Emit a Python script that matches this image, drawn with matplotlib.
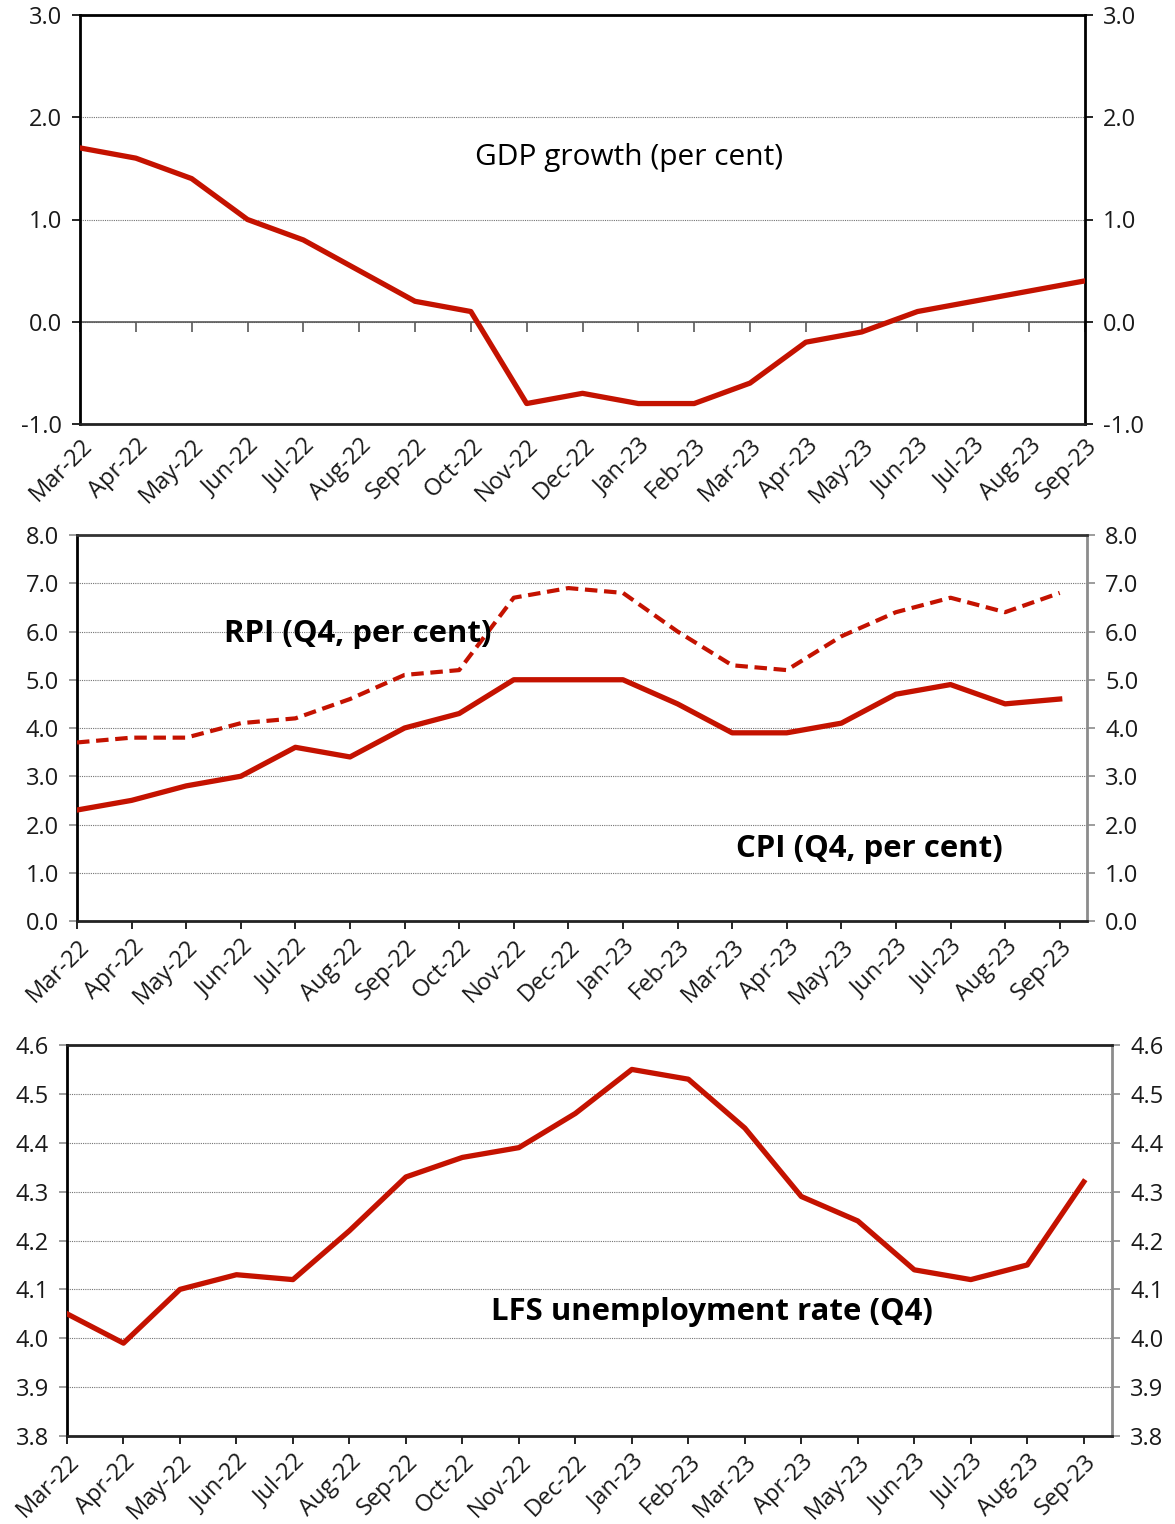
import numpy as np
import matplotlib
matplotlib.use('Agg')
import matplotlib.pyplot as plt

plt.rcParams['font.family'] = ['Open Sans', 'DejaVu Sans']

# data
months = ['Mar-22', 'Apr-22', 'May-22', 'Jun-22', 'Jul-22', 'Aug-22', 'Sep-22',
          'Oct-22', 'Nov-22', 'Dec-22', 'Jan-23', 'Feb-23', 'Mar-23', 'Apr-23',
          'May-23', 'Jun-23', 'Jul-23', 'Aug-23', 'Sep-23']
gdp = [1.7, 1.6, 1.4, 1.0, 0.8, 0.5, 0.2, 0.1, -0.8, -0.7, -0.8, -0.8, -0.6,
       -0.2, -0.1, 0.1, 0.2, 0.3, 0.4]
cpi = [2.3, 2.5, 2.8, 3.0, 3.6, 3.4, 4.0, 4.3, 5.0, 5.0, 5.0, 4.5, 3.9, 3.9,
       4.1, 4.7, 4.9, 4.5, 4.6]
rpi = [3.7, 3.8, 3.8, 4.1, 4.2, 4.6, 5.1, 5.2, 6.7, 6.9, 6.8, 6.0, 5.3, 5.2,
       5.9, 6.4, 6.7, 6.4, 6.8]
lfs = [4.05, 3.99, 4.10, 4.13, 4.12, 4.22, 4.33, 4.37, 4.39, 4.46, 4.55, 4.53,
       4.43, 4.29, 4.24, 4.14, 4.12, 4.15, 4.32]

gdp_ticks = [-1.0, 0.0, 1.0, 2.0, 3.0]
inf_ticks = [0.0, 1.0, 2.0, 3.0, 4.0, 5.0, 6.0, 7.0, 8.0]
lfs_ticks = [3.8, 3.9, 4.0, 4.1, 4.2, 4.3, 4.4, 4.5, 4.6]

red = '#C41200'
x = np.arange(len(months))
W, H = 1175, 1524
TICKSIZE = 17

fig = plt.figure(figsize=(W / 100, H / 100), dpi=100)


def box(l, r, t, b):
    return [l / W, 1 - b / H, (r - l) / W, (b - t) / H]


def style(ax, ticks, xmax, right_col, top_col):
    ax.set_xlim(0, xmax)
    ax.set_ylim(ticks[0], ticks[-1])
    ax.set_yticks(ticks)
    ax.set_yticklabels(['%.1f' % t for t in ticks])
    ax.set_xticks(x)
    ax.set_xticklabels(months, rotation=45, ha='right', rotation_mode='anchor')
    ax.tick_params(axis='y', direction='out', length=6, width=1.2,
                   labelsize=TICKSIZE, labelcolor='#1a1a1a', left=True, right=True,
                   labelleft=True, labelright=True, pad=7)
    ax.tick_params(axis='x', direction='out', length=6, width=1.2,
                   labelsize=TICKSIZE, labelcolor='#1a1a1a', pad=4)
    ax.grid(axis='y', linestyle=(0, (1, 1)), color='0.45', linewidth=0.8)
    ax.set_axisbelow(True)
    ax.spines['left'].set_color('black')
    ax.spines['left'].set_linewidth(2)
    ax.spines['bottom'].set_color('#222222')
    ax.spines['bottom'].set_linewidth(2)
    ax.spines['top'].set_color(top_col)
    ax.spines['top'].set_linewidth(2)
    ax.spines['right'].set_color(right_col)
    ax.spines['right'].set_linewidth(2)


# panel 1: GDP
ax1 = fig.add_axes(box(80, 1085, 15, 424))
ax1.plot(x, gdp, color=red, lw=3.8, zorder=3)
style(ax1, gdp_ticks, len(months) - 1, 'black', 'black')
ax1.tick_params(axis='x', length=0, pad=7)
ax1.tick_params(axis='y', colors='black', labelcolor='#1a1a1a')
ax1.axhline(0, color='0.35', lw=1.2, zorder=2)
# month ticks hanging off the zero line
zero_frac = (0 - gdp_ticks[0]) / (gdp_ticks[-1] - gdp_ticks[0])
sec = ax1.secondary_xaxis(zero_frac)
sec.set_xticks(x)
sec.tick_params(axis='x', direction='out', length=7, width=1.2, color='0.35',
                labelbottom=False, labeltop=False)
sec.spines['bottom'].set_visible(False)
sec.spines['top'].set_visible(False)
ax1.text(0.546, 0.652, 'GDP growth (per cent)', transform=ax1.transAxes,
         ha='center', va='center', fontsize=21.5, color='black')

# panel 2: CPI / RPI
ax2 = fig.add_axes(box(77, 1087, 535, 921))
ax2.plot(x, cpi, color=red, lw=3.8, zorder=3)
ax2.plot(x, rpi, color=red, lw=3.0, linestyle=(0, (3, 1.6)), zorder=3)
style(ax2, inf_ticks, 18.5, '0.55', '#333333')
ax2.tick_params(axis='y', color='0.55')
ax2.text(0.1455, 0.743, 'RPI (Q4, per cent)', transform=ax2.transAxes,
         ha='left', va='center', fontsize=22.4, fontweight='bold', color='black')
ax2.text(0.652, 0.186, 'CPI (Q4, per cent)', transform=ax2.transAxes,
         ha='left', va='center', fontsize=22.4, fontweight='bold', color='black')

# panel 3: LFS unemployment
ax3 = fig.add_axes(box(67, 1112, 1045, 1436))
ax3.plot(x, lfs, color=red, lw=3.8, zorder=3)
style(ax3, lfs_ticks, 18.5, '0.55', '#222222')
ax3.tick_params(axis='y', color='0.55')
ax3.text(0.406, 0.318, 'LFS unemployment rate (Q4)', transform=ax3.transAxes,
         ha='left', va='center', fontsize=22.4, fontweight='bold', color='black')

fig.savefig('out.png', dpi=100)
